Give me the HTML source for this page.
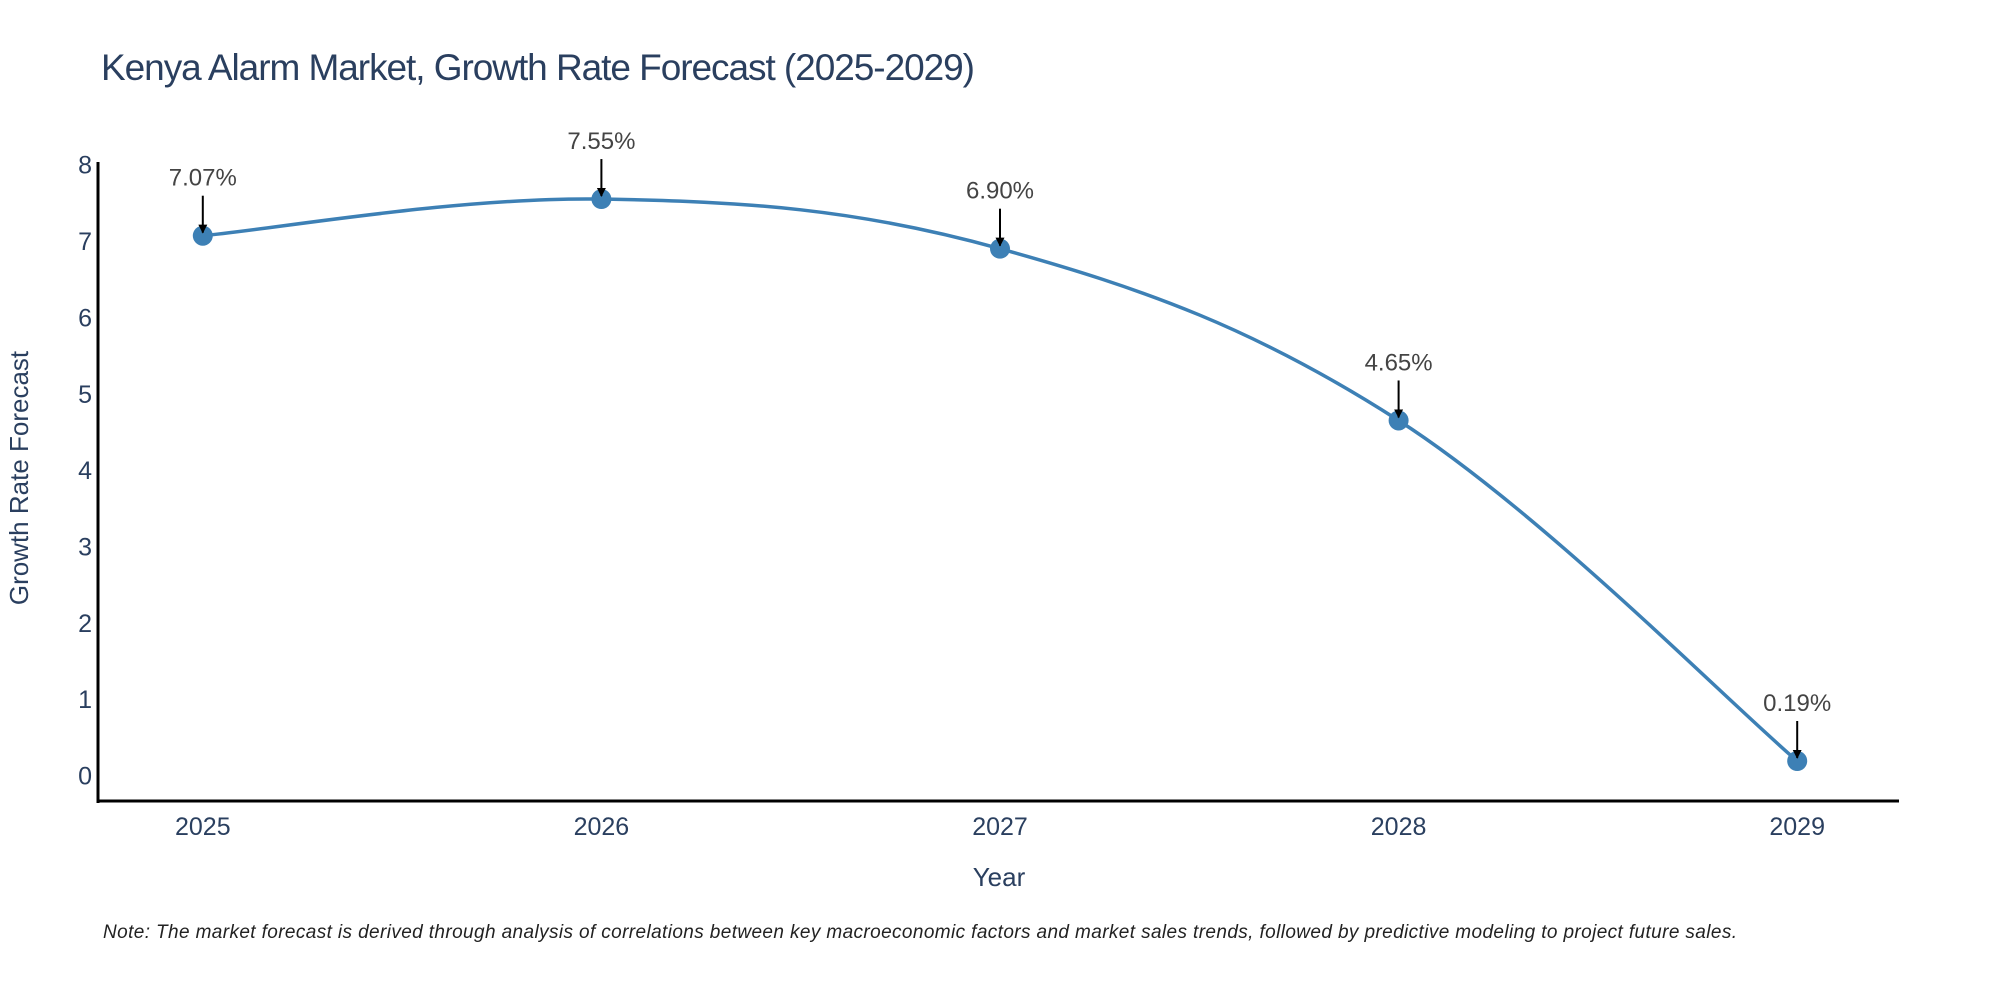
<!DOCTYPE html>
<html><head><meta charset="utf-8"><style>
html,body{margin:0;padding:0;background:#fff;}
svg{display:block;font-family:"Liberation Sans","DejaVu Sans",sans-serif;}
</style></head><body>
<svg id="chart" width="2000" height="1000" viewBox="0 0 2000 1000">
<defs><marker id="ah" viewBox="0 0 10 10" refX="9" refY="5" markerWidth="4.5" markerHeight="4.5" markerUnits="strokeWidth" orient="auto"><path d="M0,0 L10,5 L0,10 z" fill="#000"/></marker></defs>
<text x="101" y="80" font-size="37" fill="#2a3f5f" textLength="874">Kenya Alarm Market, Growth Rate Forecast (2025-2029)</text>
<g id="yticks"></g>
<g id="xticks"></g>
<line x1="98" y1="162" x2="98" y2="803" stroke="#000" stroke-width="3"/>
<line x1="97" y1="801" x2="1899" y2="801" stroke="#000" stroke-width="3"/>
<path id="line" fill="none" stroke="#3d80b5" stroke-width="3.5"/>
<g id="marks"></g>
<g id="annos"></g>
<text x="28" y="478" font-size="26" fill="#2a3f5f" text-anchor="middle" transform="rotate(-90 28 478)">Growth Rate Forecast</text>
<text x="999" y="886" font-size="26" fill="#2a3f5f" text-anchor="middle">Year</text>
<text x="103" y="938" font-size="19" font-style="italic" fill="#222" textLength="1634">Note: The market forecast is derived through analysis of correlations between key macroeconomic factors and market sales trends, followed by predictive modeling to project future sales.</text>
</svg>
<script>
const years = [2025, 2026, 2027, 2028, 2029];
const values = [7.07, 7.55, 6.90, 4.65, 0.19];
const labels = ["7.07%", "7.55%", "6.90%", "4.65%", "0.19%"];
const yTicks = [0, 1, 2, 3, 4, 5, 6, 7, 8];
const NS = "http://www.w3.org/2000/svg";
const X = v => 202.8 + (v - 2025) * 398.6;
const Y = v => 775.5 - v * 76.35;
function mk(t, a, p) { const e = document.createElementNS(NS, t); for (const k in a) e.setAttribute(k, a[k]); p.appendChild(e); return e; }
const yt = document.getElementById('yticks');
yTicks.forEach(t => {
  const e = mk('text', {x: 92, y: Y(t) + 9, 'font-size': 25, fill: '#2a3f5f', 'text-anchor': 'end'}, yt);
  
  
  e.textContent = t;
});
const xt = document.getElementById('xticks');
years.forEach(yr => {
  const e = mk('text', {x: X(yr), y: 835, 'font-size': 25, fill: '#2a3f5f', 'text-anchor': 'middle'}, xt);
  
  
  e.textContent = yr;
});
const pts = years.map((yr, i) => [X(yr), Y(values[i])]);
let d = `M${pts[0][0]},${pts[0][1]}`;
const tn = 0.18;
for (let i = 0; i < pts.length - 1; i++) {
  const p0 = pts[Math.max(i - 1, 0)], p1 = pts[i], p2 = pts[i + 1], p3 = pts[Math.min(i + 2, pts.length - 1)];
  const c1 = [p1[0] + (p2[0] - p0[0]) * tn, p1[1] + (p2[1] - p0[1]) * tn];
  const c2 = [p2[0] - (p3[0] - p1[0]) * tn, p2[1] - (p3[1] - p1[1]) * tn];
  d += ` C${c1[0]},${c1[1]} ${c2[0]},${c2[1]} ${p2[0]},${p2[1]}`;
}
document.getElementById('line').setAttribute('d', d);
const mg = document.getElementById('marks'), ag = document.getElementById('annos');
pts.forEach((p, i) => {
  const c = mk('circle', {cx: p[0], cy: p[1], r: 10, fill: '#3d80b5'}, mg);
  
  
  const l = mk('line', {x1: p[0], y1: p[1] - 40, x2: p[0], y2: p[1] - 3, stroke: '#000', 'stroke-width': 2, 'marker-end': 'url(#ah)'}, ag);
  
  
  const t = mk('text', {x: p[0], y: p[1] - 50, 'font-size': 24, fill: '#444', 'text-anchor': 'middle'}, ag);
  
  
  t.textContent = labels[i];
});
</script>
</body></html>
